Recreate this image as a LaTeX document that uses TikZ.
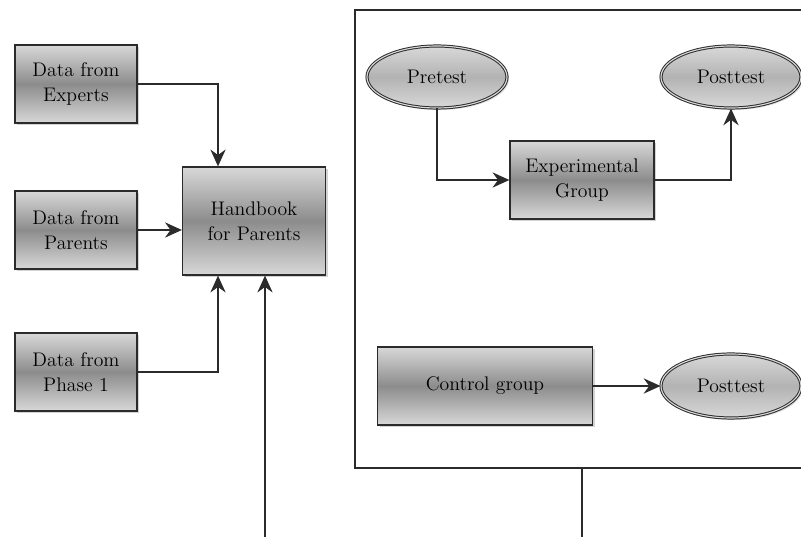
\documentclass[tikz,border=0pt]{standalone}
\usepackage{tikz}
\usetikzlibrary{arrows.meta,positioning,shapes.geometric,shadows}
\definecolor{boxgrey}{HTML}{8C8C8C}
\definecolor{lightgrey}{HTML}{D8D8D8}
\definecolor{linegrey}{HTML}{2B2B2B}

\begin{document}
\begin{tikzpicture}[x=0.25mm, y=-0.25mm,
    box/.style={draw=linegrey, line width=0.9pt, top color=lightgrey, bottom color=lightgrey, middle color=boxgrey,
        minimum width=30.5mm, minimum height=19.5mm, align=center, font=\fontsize{14}{17.5}\selectfont,
        drop shadow={opacity=0.35, shadow xshift=0.6mm, shadow yshift=-0.6mm}},
    test/.style={ellipse, draw=linegrey, line width=0.7pt, double=lightgrey, double distance=0.8pt,
        top color=lightgrey, bottom color=lightgrey, middle color=gray!60, minimum width=35mm, minimum height=15.5mm,
        inner sep=0pt, font=\fontsize{14}{17.5}\selectfont,
        drop shadow={opacity=0.25, shadow xshift=0.5mm, shadow yshift=-0.5mm}},
    arrow/.style={-{Stealth[length=4.2mm, width=3.8mm]}, line width=1.2pt, draw=linegrey},
    frameline/.style={line width=1.1pt, draw=linegrey}
]
\useasboundingbox (0,0) rectangle (801,537);

% Data sources
\node[box] (experts) at (76,84) {Data from\\Experts};
\node[box] (parents) at (76,230) {Data from\\Parents};
\node[box] (phase) at (76,372) {Data from\\Phase 1};

% Handbook
\node[box, minimum width=35.75mm, minimum height=27mm] (handbook) at (254,221) {Handbook\\for Parents};

% Study design
\node[test] (pretest) at (437,77) {Pretest};
\node[test] (posttest) at (731,77) {Posttest};
\node[box, minimum width=36mm] (expgroup) at (582,180) {Experimental\\Group};
\node[box, minimum width=53.75mm] (control) at (485,386) {Control group};
\node[test, minimum height=16mm] (posttestb) at (731,386) {Posttest};

% Frame
\coordinate (frametr) at (801,10);
\coordinate (frametl) at (355,10);
\coordinate (framebl) at (355,468);
\coordinate (framebr) at (801,468);
\coordinate (framebot) at (582,468);
\coordinate (frameout) at (582,537);
\coordinate (feedin) at (265,537);
\draw[frameline] (frametr) -- (frametl) -- (framebl) -- (framebr);
\draw[frameline] (framebot) -- (frameout);

% Arrows
\draw[arrow] (experts.east) -| ([xshift=-9mm]handbook.north);
\draw[arrow] (parents.east) -- (parents.east -| handbook.west);
\draw[arrow] (phase.east) -| ([xshift=-9mm]handbook.south);
\draw[arrow] (feedin) -- (feedin |- handbook.south);
\draw[arrow] (pretest.south) |- (expgroup.west);
\draw[arrow] (expgroup.east) -| (posttest.south);
\draw[arrow] (control.east) -- (control.east -| posttestb.west);
\end{tikzpicture}
\end{document}
